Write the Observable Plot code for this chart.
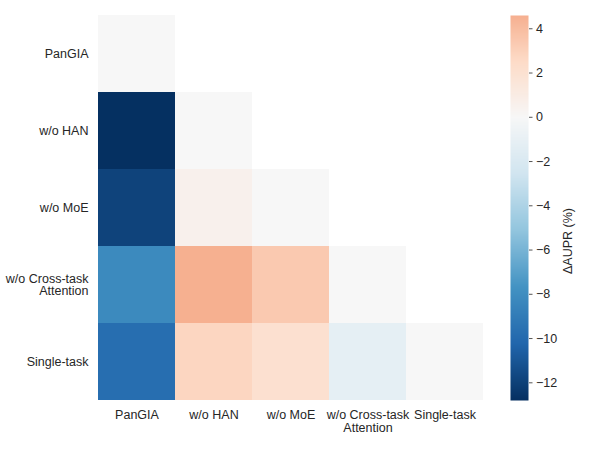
<!DOCTYPE html>
<html>
<head>
<meta charset="utf-8">
<script src="https://cdn.jsdelivr.net/npm/d3@7"></script>
<script src="https://cdn.jsdelivr.net/npm/@observablehq/plot@0.6"></script>
<style>
  body { margin: 0; background: #fff; }
  #chart { position: relative; width: 600px; height: 450px; }
  #chart svg { position: absolute; left: 0; top: 0; }
</style>
</head>
<body>
<div id="chart"></div>
<script>
// Model variants compared in the ablation (rows and columns share the order)
const variants = ["PanGIA", "w/o HAN", "w/o MoE", "w/o Cross-task Attention", "Single-task"];
const tickLabels = ["PanGIA", "w/o HAN", "w/o MoE", "w/o Cross-task\nAttention", "Single-task"];

// Lower-triangle ΔAUPR (%) values, one array per row
const rowPanGIA = [0];
const rowNoHAN = [-12.8, 0];
const rowNoMoE = [-11.9, 0.6, 0];
const rowNoCrossTask = [-8.2, 4.6, 3.4, 0];
const rowSingleTask = [-9.8, 2.8, 2.1, -1.2, 0];

// Colour bar extent and ticks
const colorMin = -12.8;
const colorMax = 4.6;
const colorTicks = [-12, -10, -8, -6, -4, -2, 0, 2, 4];

// Blue-to-red diverging stops, interpolated linearly in RGB
const paletteStops = ["#053061", "#2166ac", "#4393c3", "#92c5de", "#d1e5f0", "#f7f7f7",
                      "#fddbc7", "#f4a582", "#d6604d", "#b2182b", "#67001f"];

const rows = [rowPanGIA, rowNoHAN, rowNoMoE, rowNoCrossTask, rowSingleTask];
const cells = rows.flatMap((vals, i) =>
  vals.map((v, j) => ({row: variants[i], col: variants[j], value: v}))
);

const labelOf = d => tickLabels[variants.indexOf(d)];
const font = '"Liberation Sans", Arial, sans-serif';

// Diverging palette centred on 0, symmetric around the pivot
const half = Math.max(Math.abs(colorMin), Math.abs(colorMax));
const interp = d3.piecewise(d3.interpolateRgb, paletteStops);
const color = {type: "linear", domain: [-half, half], interpolate: t => interp(t)};

const heat = Plot.plot({
  width: 600,
  height: 450,
  marginLeft: 98,
  marginRight: 117,
  marginTop: 15,
  marginBottom: 50,
  style: {fontFamily: font, fontSize: "12.5px", color: "#262626", background: "transparent"},
  x: {domain: variants, padding: 0, label: null},
  y: {domain: variants, padding: 0, label: null},
  color,
  marks: [
    Plot.cell(cells, {x: "col", y: "row", fill: "value", inset: 0}),
    Plot.axisX({anchor: "bottom", tickSize: 0, tickPadding: 10, tickFormat: labelOf, label: null, fontSize: 12.5}),
    Plot.axisY({anchor: "left", tickSize: 0, tickPadding: 10, tickFormat: labelOf, label: null, fontSize: 12.5})
  ]
});

const bar = Plot.plot({
  width: 600,
  height: 450,
  marginLeft: 510,
  marginRight: 72,
  marginTop: 15,
  marginBottom: 50,
  style: {fontFamily: font, fontSize: "12.5px", color: "#262626", background: "transparent"},
  x: {domain: [0, 1], axis: null},
  y: {domain: [colorMin, colorMax], label: null},
  color,
  marks: [
    Plot.raster({x1: 0, x2: 1, y1: colorMin, y2: colorMax, fill: (x, y) => y, pixelSize: 1}),
    Plot.axisY({anchor: "right", ticks: colorTicks, tickSize: 3.5, tickPadding: 4, label: null, fontSize: 12.5, stroke: "#555"}),
    Plot.text(["ΔAUPR (%)"], {frameAnchor: "right", dx: 39, rotate: -90, fontSize: 12.5, fill: "#262626"})
  ]
});

const root = document.getElementById("chart");
root.appendChild(heat);
root.appendChild(bar);
</script>
</body>
</html>
